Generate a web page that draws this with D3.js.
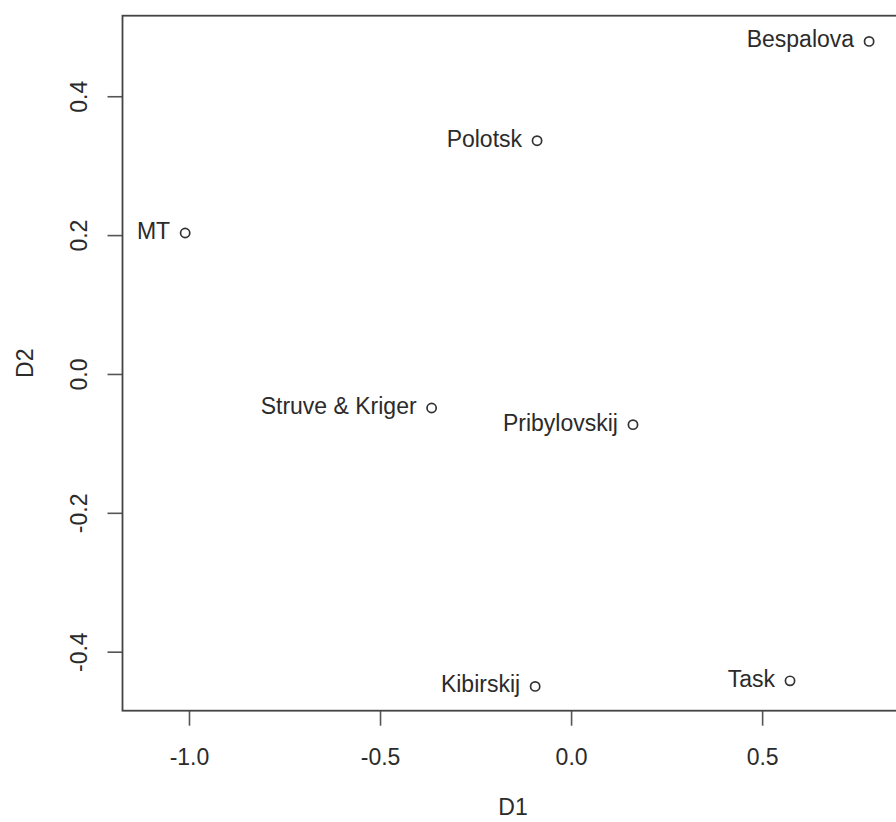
<!DOCTYPE html>
<html>
<head>
<meta charset="utf-8">
<script src="https://cdn.jsdelivr.net/npm/d3@7"></script>
<style>
  html, body { margin: 0; padding: 0; background: #fff; overflow: hidden; }
  svg { display: block; font-family: "Liberation Sans", Arial, sans-serif; }
</style>
</head>
<body>
<div id="chart"></div>
<script>
// MDS coordinates
const names = ["Bespalova", "Polotsk", "MT", "Struve & Kriger", "Pribylovskij", "Kibirskij", "Task"];
const d1 = [0.780, -0.089, -1.010, -0.365, 0.162, -0.094, 0.573];
const d2 = [0.479, 0.336, 0.203, -0.049, -0.073, -0.450, -0.442];

const xTicks = [-1.0, -0.5, 0.0, 0.5];
const yTicks = [-0.4, -0.2, 0.0, 0.2, 0.4];

const Width = 896;
const Height = 822;
const fontSize = 23;
const ink = "#2b2b2b";

const box = { left: 122.5, top: 15.7, right: 903.5, bottom: 710.7 };

const x = d3.scaleLinear().domain([-1.174, 0.870]).range([box.left, box.right]);
const y = d3.scaleLinear().domain([-0.485, 0.516]).range([box.bottom, box.top]);

// R prints a plain hyphen, not the unicode minus
const fmt = (d) => d3.format(".1f")(d).replace("\u2212", "-");

const svg = d3.select("#chart")
  .append("svg")
  .attr("width", Width)
  .attr("height", Height);

// x axis
const gx = svg.append("g")
  .attr("transform", `translate(0,${box.bottom})`)
  .call(d3.axisBottom(x).tickValues(xTicks).tickSize(15).tickFormat(fmt));
gx.select(".domain").remove();
gx.selectAll("line").attr("stroke", "#555").attr("stroke-width", 1.6);
gx.selectAll("text")
  .attr("y", 46)
  .attr("dy", "0.35em")
  .attr("fill", ink)
  .style("font-size", fontSize + "px");

// y axis, labels turned like in R
const gy = svg.append("g")
  .attr("transform", `translate(${box.left},0)`)
  .call(d3.axisLeft(y).tickValues(yTicks).tickSize(15).tickFormat(fmt));
gy.select(".domain").remove();
gy.selectAll("line").attr("stroke", "#555").attr("stroke-width", 1.6);
gy.selectAll("text")
  .attr("x", null)
  .attr("text-anchor", "middle")
  .attr("transform", "translate(-44,0) rotate(-90)")
  .attr("dy", "0.35em")
  .attr("fill", ink)
  .style("font-size", fontSize + "px");

// frame
svg.append("rect")
  .attr("x", box.left)
  .attr("y", box.top)
  .attr("width", box.right - box.left)
  .attr("height", box.bottom - box.top)
  .attr("fill", "none")
  .attr("stroke", "#444")
  .attr("stroke-width", 1.8);

// axis titles
svg.append("text")
  .attr("x", (box.left + box.right) / 2)
  .attr("y", 815)
  .attr("text-anchor", "middle")
  .attr("fill", ink)
  .style("font-size", fontSize + "px")
  .text("D1");

svg.append("text")
  .attr("transform", `translate(25,${(box.top + box.bottom) / 2}) rotate(-90)`)
  .attr("text-anchor", "middle")
  .attr("dy", "0.35em")
  .attr("fill", ink)
  .style("font-size", fontSize + "px")
  .text("D2");

// points + labels
const pts = names.map((n, i) => ({ name: n, a: d1[i], b: d2[i] }));

svg.append("g")
  .selectAll("circle")
  .data(pts)
  .join("circle")
  .attr("cx", (d) => x(d.a))
  .attr("cy", (d) => y(d.b))
  .attr("r", 4.6)
  .attr("fill", "none")
  .attr("stroke", "#333")
  .attr("stroke-width", 1.7);

svg.append("g")
  .selectAll("text")
  .data(pts)
  .join("text")
  .attr("x", (d) => x(d.a) - 15)
  .attr("y", (d) => y(d.b) + 6)
  .attr("text-anchor", "end")
  .attr("fill", ink)
  .style("font-size", fontSize + "px")
  .text((d) => d.name);
</script>
</body>
</html>
